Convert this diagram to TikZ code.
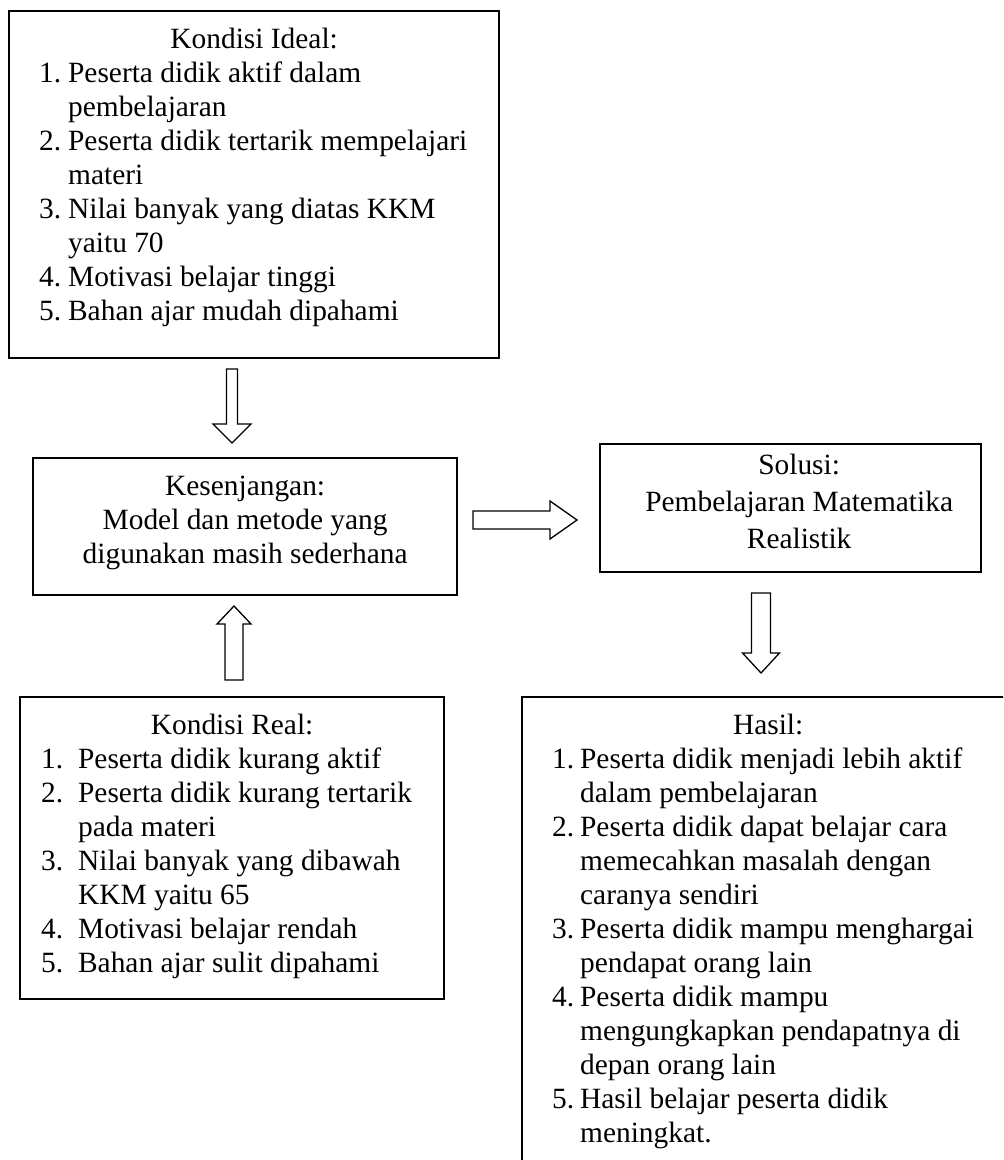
\documentclass[tikz,border=0pt]{standalone}
\usepackage{fontspec}
\setmainfont{Liberation Serif}

\newdimen\px
\px=0.5pt
\newlength\numw
\newcommand{\itm}[2]{\par\makebox[\numw][l]{#1}#2}
\newcommand{\cnt}[1]{\par\hspace*{\numw}#1}

\tikzset{
  panel/.style={draw, line width=1.15pt, inner sep=0pt, anchor=north west,
    font=\fontsize{14.7}{17}\selectfont},
  arrowline/.style={draw, line width=0.65pt, fill=white},
  pics/harrow/.style n args={4}{code={
    \draw[arrowline] (0,#2) -- (#1-#4,#2) -- (#1-#4,#3) -- (#1,0)
      -- (#1-#4,-#3) -- (#1-#4,-#2) -- (0,-#2) -- cycle;}}
}

\begin{document}
\begin{tikzpicture}[x=0.5pt, y=-0.5pt]
  \useasboundingbox (0,0) rectangle (1003,1160);
  \clip (0,0) rectangle (1003,1160);

  \node[panel] (ideal) at (8,10) {\parbox[c][347\px][t]{490\px}{%
    \vspace*{17\px}\centering Kondisi Ideal:\par
    \raggedright\leftskip=30\px \numw=29\px
    \itm{1.}{Peserta didik aktif dalam}
    \cnt{pembelajaran}
    \itm{2.}{Peserta didik tertarik mempelajari}
    \cnt{materi}
    \itm{3.}{Nilai banyak yang diatas KKM}
    \cnt{yaitu 70}
    \itm{4.}{Motivasi belajar tinggi}
    \itm{5.}{Bahan ajar mudah dipahami}\par}};

  \node[panel] (gap) at (32,457) {\parbox[c][137\px][t]{424\px}{%
    \vspace*{18\px}\centering Kesenjangan:\par
    Model dan metode yang\par
    digunakan masih sederhana\par}};

  \node[panel] (solusi) at (599,443) {\parbox[c][128\px][t]{381\px}{%
    \fontsize{14.7}{18.5}\selectfont
    \vspace*{10\px}\centering\leftskip=17\px plus 1fil
    Solusi:\par
    Pembelajaran Matematika\par
    Realistik\par}};

  \node[panel] (real) at (19,696) {\parbox[c][302\px][t]{424\px}{%
    \vspace*{17\px}\centering Kondisi Real:\par
    \raggedright\leftskip=21\px \numw=37\px
    \itm{1.}{Peserta didik kurang aktif}
    \itm{2.}{Peserta didik kurang tertarik}
    \cnt{pada materi}
    \itm{3.}{Nilai banyak yang dibawah}
    \cnt{KKM yaitu 65}
    \itm{4.}{Motivasi belajar rendah}
    \itm{5.}{Bahan ajar sulit dipahami}\par}};

  \node[panel] (hasil) at (521,696) {\parbox[c][490\px][t]{492\px}{%
    \vspace*{17\px}\centering Hasil:\par
    \raggedright\leftskip=30\px \numw=28\px
    \itm{1.}{Peserta didik menjadi lebih aktif}
    \cnt{dalam pembelajaran}
    \itm{2.}{Peserta didik dapat belajar cara}
    \cnt{memecahkan masalah dengan}
    \cnt{caranya sendiri}
    \itm{3.}{Peserta didik mampu menghargai}
    \cnt{pendapat orang lain}
    \itm{4.}{Peserta didik mampu}
    \cnt{mengungkapkan pendapatnya di}
    \cnt{depan orang lain}
    \itm{5.}{Hasil belajar peserta didik}
    \cnt{meningkat.}\par}};

  \coordinate (down1) at (232,369);
  \coordinate (right1) at (473,520);
  \coordinate (down2) at (761,593);
  \coordinate (up1) at (234,680);

  \pic[rotate=-90] at (down1) {harrow={74}{5.5}{19}{19}};
  \pic at (right1) {harrow={104}{9}{19}{27}};
  \pic[rotate=-90] at (down2) {harrow={80}{9.5}{18.5}{20}};
  \pic[rotate=90] at (up1) {harrow={74}{9}{17}{18}};
\end{tikzpicture}
\end{document}
